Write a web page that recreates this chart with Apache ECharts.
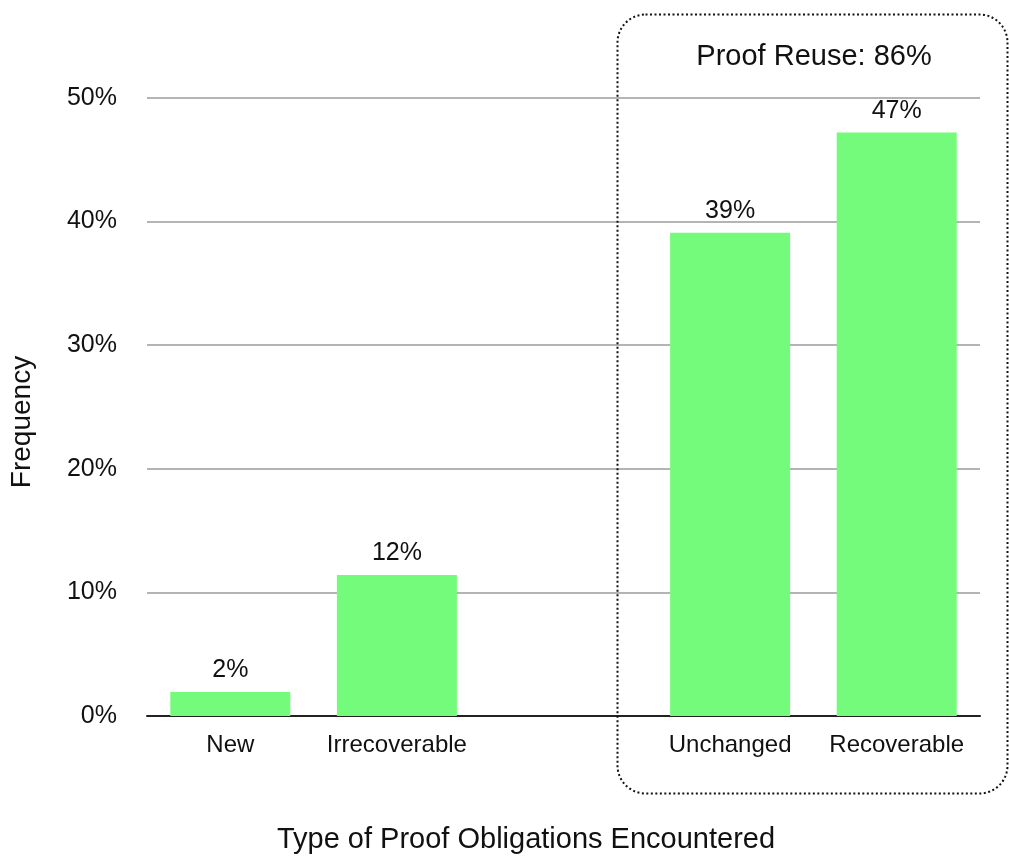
<!DOCTYPE html>
<html><head><meta charset="utf-8">
<script src="https://cdn.jsdelivr.net/npm/echarts@6/dist/echarts.min.js"></script>
<style>html,body{margin:0;padding:0;background:#fff}#c{width:1009px;height:861px}</style>
</head><body><div id="c"></div>
<script>
const categories = ['New', 'Irrecoverable', '', 'Unchanged', 'Recoverable'];
const values = [1.95, 11.4, null, 39.1, 47.2];
const valueLabels = ['2%', '12%', '', '39%', '47%'];
const yTicks = [0, 10, 20, 30, 40, 50];
const boxTitle = 'Proof Reuse: 86%';
const xTitle = 'Type of Proof Obligations Encountered';
const yTitle = 'Frequency';

const FONT = '"Liberation Sans", Arial, sans-serif';
const chart = echarts.init(document.getElementById('c'), null, {renderer: 'canvas'});
chart.setOption({
  animation: false,
  backgroundColor: '#fff',
  grid: {left: 147, right: 29, top: 98, bottom: 145},
  xAxis: {
    type: 'category', data: categories,
    axisLine: {show: true, lineStyle: {color: '#222', width: 2}},
    axisTick: {show: false},
    axisLabel: {color: '#111', fontSize: 24, fontFamily: FONT, margin: 17, interval: 0, hideOverlap: false}
  },
  yAxis: {
    type: 'value', min: yTicks[0], max: yTicks[yTicks.length - 1], interval: 10,
    axisLine: {show: false}, axisTick: {show: false},
    axisLabel: {color: '#111', fontSize: 25, fontFamily: FONT, margin: 30, formatter: v => v + '%'},
    splitLine: {lineStyle: {color: '#b4b4b4', width: 2}}
  },
  series: [{
    type: 'bar', data: values, barWidth: 120,
    itemStyle: {color: '#75fb7b'},
    label: {show: true, position: 'top', distance: 9, color: '#111', fontSize: 25, fontFamily: FONT,
      formatter: p => valueLabels[p.dataIndex]}
  }],
  graphic: [
    {type: 'rect', left: 615, top: 12, shape: {x: 0, y: 0, width: 390, height: 779, r: 28},
      style: {fill: 'none', stroke: '#111', lineWidth: 2, lineDash: [2, 2.5]}, z: 100},
    {type: 'text', x: 814, y: 57, style: {text: boxTitle, fontSize: 29, fontFamily: FONT, fill: '#111',
      textAlign: 'center', textVerticalAlign: 'middle'}},
    {type: 'text', x: 526, y: 840, style: {text: xTitle, fontSize: 29, fontFamily: FONT, fill: '#111',
      textAlign: 'center', textVerticalAlign: 'middle'}},
    {type: 'text', x: 22, y: 422, rotation: Math.PI / 2, style: {text: yTitle, fontSize: 28, fontFamily: FONT, fill: '#111',
      textAlign: 'center', textVerticalAlign: 'middle'}}
  ]
});
</script></body></html>
